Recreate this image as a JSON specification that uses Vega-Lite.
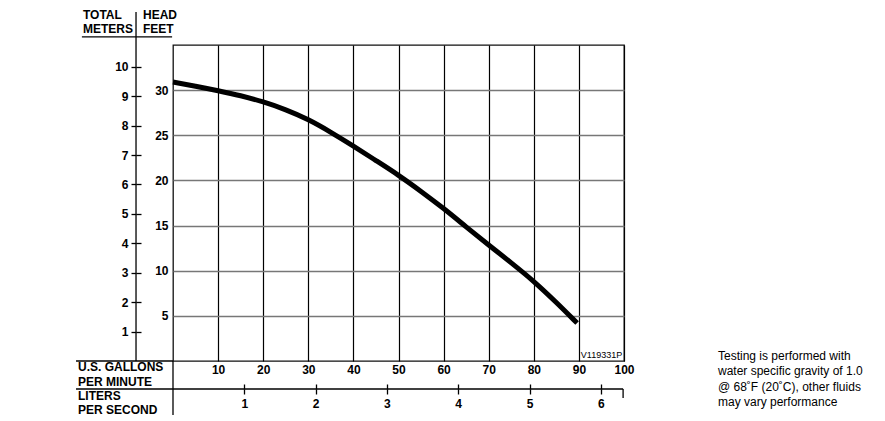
{
  "$schema": "https://vega.github.io/schema/vega-lite/v6.json",
  "width": 451,
  "height": 316,
  "autosize": {"type": "none"},
  "padding": {"left": 173, "top": 45, "right": 261, "bottom": 60},
  "background": "white",
  "config": {
    "view": {"stroke": "#111", "strokeWidth": 1.3},
    "axis": {"labelFont": "Liberation Sans", "labelFontSize": 12, "labelFontWeight": "bold", "labelColor": "#000", "tickColor": "#000", "tickWidth": 1.3, "domainColor": "#000", "labelFlush": false, "labelOverlap": false},
    "text": {"font": "Liberation Sans", "fontSize": 12, "fontWeight": "bold", "color": "#000", "align": "left", "baseline": "middle"},
    "rule": {"color": "#000", "strokeWidth": 1.3}
  },
  "resolve": {"scale": {"x": "independent", "y": "independent"}, "axis": {"x": "independent", "y": "independent"}},
  "layer": [
    {
      "layer": [
        {
          "data": {"values": [
            {"gpm": 0, "ft": 30.9},
            {"gpm": 5, "ft": 30.45},
            {"gpm": 10, "ft": 29.94},
            {"gpm": 15, "ft": 29.4},
            {"gpm": 20, "ft": 28.72},
            {"gpm": 25, "ft": 27.85},
            {"gpm": 30, "ft": 26.77},
            {"gpm": 35, "ft": 25.35},
            {"gpm": 40, "ft": 23.81},
            {"gpm": 45, "ft": 22.2},
            {"gpm": 50, "ft": 20.6},
            {"gpm": 55, "ft": 18.8},
            {"gpm": 60, "ft": 16.91},
            {"gpm": 65, "ft": 14.85},
            {"gpm": 70, "ft": 12.85},
            {"gpm": 75, "ft": 10.88},
            {"gpm": 80, "ft": 8.86},
            {"gpm": 85, "ft": 6.5},
            {"gpm": 89.6, "ft": 4.2}
          ]},
          "mark": {"type": "line", "color": "#000", "strokeWidth": 5, "interpolate": "basis"},
          "encoding": {
            "x": {"field": "gpm", "type": "quantitative", "scale": {"domain": [0, 100], "nice": false, "zero": false},
              "axis": {"orient": "bottom", "values": [10, 20, 30, 40, 50, 60, 70, 80, 90, 100], "title": null, "domain": false, "ticks": false, "tickSize": 0, "labelPadding": 3, "grid": true, "gridColor": "#000", "gridWidth": 1.2, "gridOpacity": 1}},
            "y": {"field": "ft", "type": "quantitative", "scale": {"domain": [0, 35], "nice": false, "zero": false},
              "axis": {"orient": "left", "values": [5, 10, 15, 20, 25, 30], "title": null, "domain": false, "ticks": false, "tickSize": 0, "labelPadding": 5, "grid": true, "gridColor": "#777", "gridWidth": 1.5, "gridOpacity": 1}}
          }
        },
        {"data": {"values": [{}]}, "mark": {"type": "rule"}, "encoding": {"x": {"datum": -21.5}, "x2": {"datum": 0}, "y": {"datum": 0}}},
        {"data": {"values": [{}]}, "mark": {"type": "rule"}, "encoding": {"x": {"datum": -21.5}, "x2": {"datum": 99.8}, "y": {"datum": -3.1}}},
        {"data": {"values": [{}]}, "mark": {"type": "rule"}, "encoding": {"x": {"datum": 0}, "y": {"datum": 0}, "y2": {"datum": -5.98}}},
        {"data": {"values": [{}]}, "mark": {"type": "rule"}, "encoding": {"x": {"datum": -8.2}, "y": {"datum": 0}, "y2": {"datum": 38.65}}},
        {"data": {"values": [{}]}, "mark": {"type": "rule"}, "encoding": {"x": {"datum": -20.2}, "x2": {"datum": -0.2}, "y": {"datum": 35.9}}},
        {"data": {"values": [{}]}, "mark": {"type": "rule"}, "encoding": {"x": {"datum": 99.8}, "y": {"datum": -3.1}, "y2": {"datum": -4.1}}},
        {"data": {"values": [{}]}, "mark": {"type": "text", "text": "TOTAL"}, "encoding": {"x": {"datum": -19.96}, "y": {"datum": 38.32}}},
        {"data": {"values": [{}]}, "mark": {"type": "text", "text": "METERS"}, "encoding": {"x": {"datum": -19.96}, "y": {"datum": 36.77}}},
        {"data": {"values": [{}]}, "mark": {"type": "text", "text": "HEAD"}, "encoding": {"x": {"datum": -6.65}, "y": {"datum": 38.32}}},
        {"data": {"values": [{}]}, "mark": {"type": "text", "text": "FEET"}, "encoding": {"x": {"datum": -6.65}, "y": {"datum": 36.77}}},
        {"data": {"values": [{}]}, "mark": {"type": "text", "text": "U.S. GALLONS"}, "encoding": {"x": {"datum": -21.06}, "y": {"datum": -0.66}}},
        {"data": {"values": [{}]}, "mark": {"type": "text", "text": "PER MINUTE"}, "encoding": {"x": {"datum": -21.06}, "y": {"datum": -2.33}}},
        {"data": {"values": [{}]}, "mark": {"type": "text", "text": "LITERS"}, "encoding": {"x": {"datum": -21.06}, "y": {"datum": -3.88}}},
        {"data": {"values": [{}]}, "mark": {"type": "text", "text": "PER SECOND"}, "encoding": {"x": {"datum": -21.06}, "y": {"datum": -5.43}}},
        {"data": {"values": [{}]}, "mark": {"type": "text", "text": "V119331P", "fontSize": 9, "fontWeight": "normal", "align": "right"}, "encoding": {"x": {"datum": 99.6}, "y": {"datum": 0.66}}},
        {"data": {"values": [{}]}, "mark": {"type": "text", "text": ["Testing is performed with", "water specific gravity of 1.0", "@ 68˚F (20˚C), other fluids", "may vary performance"], "fontWeight": "normal", "baseline": "alphabetic", "lineHeight": 15.3, "color": "#000"}, "encoding": {"x": {"datum": 120.84}, "y": {"datum": 0.11}}}
      ]
    },
    {
      "data": {"values": [{"m": 0}]},
      "mark": {"type": "rule", "opacity": 0},
      "encoding": {"y": {"field": "m", "type": "quantitative", "scale": {"domain": [0, 10.74], "nice": false, "zero": false},
        "axis": {"orient": "left", "offset": 37, "values": [1, 2, 3, 4, 5, 6, 7, 8, 9, 10], "title": null, "domain": false, "grid": false, "tickSize": 5, "labelPadding": 3}}}
    },
    {
      "data": {"values": [{"m": 0}]},
      "mark": {"type": "rule", "opacity": 0},
      "encoding": {"y": {"field": "m", "type": "quantitative", "scale": {"domain": [0, 10.74], "nice": false, "zero": false},
        "axis": {"orient": "left", "offset": 37, "values": [1, 2, 3, 4, 5, 6, 7, 8, 9, 10], "title": null, "domain": false, "grid": false, "tickSize": -5, "labels": false}}}
    },
    {
      "data": {"values": [{"l": 0}]},
      "mark": {"type": "rule", "opacity": 0},
      "encoding": {"x": {"field": "l", "type": "quantitative", "scale": {"domain": [0, 6.325], "nice": false, "zero": false},
        "axis": {"orient": "bottom", "offset": 28, "values": [1, 2, 3, 4, 5, 6], "title": null, "domain": false, "grid": false, "tickSize": 5, "labelPadding": 4}}}
    },
    {
      "data": {"values": [{"l": 0}]},
      "mark": {"type": "rule", "opacity": 0},
      "encoding": {"x": {"field": "l", "type": "quantitative", "scale": {"domain": [0, 6.325], "nice": false, "zero": false},
        "axis": {"orient": "bottom", "offset": 28, "values": [1, 2, 3, 4, 5, 6], "title": null, "domain": false, "grid": false, "tickSize": -5, "labels": false}}}
    }
  ]
}
